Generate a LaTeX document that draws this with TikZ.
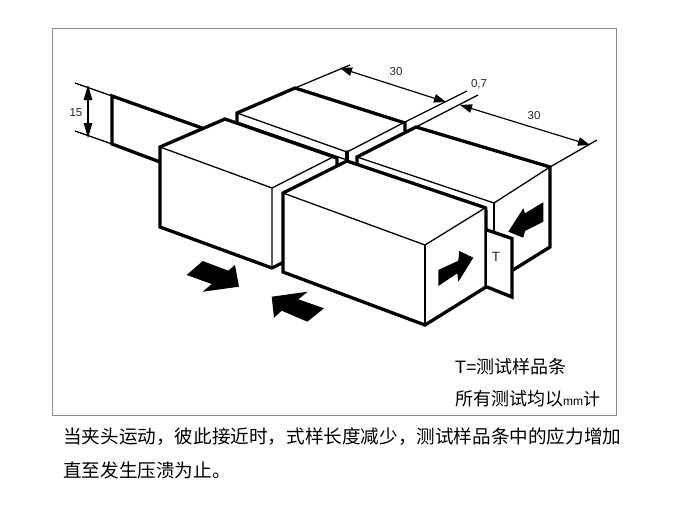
\documentclass[tikz,border=0pt]{standalone}
\usepackage{fontspec}
\setmainfont{Liberation Sans}
\newfontfamily\cjk{Noto Sans CJK SC}
\usetikzlibrary{arrows.meta}
\tikzset{
  thick line/.style={line width=3.3pt,line join=miter,line cap=round},
  thin line/.style={line width=1.3pt},
  face/.style={fill=white},
  dim/.style={line width=1.2pt,{Triangle[length=12pt,width=8.5pt]}-{Triangle[length=12pt,width=8.5pt]}},
  dimtall/.style={line width=1.2pt,{Triangle[length=15pt,width=8.5pt]}-{Triangle[length=15pt,width=8.5pt]}},
  dimlabel/.style={font=\fontsize{11.5}{13}\selectfont,inner sep=0pt,text=black!85},
  cjklabel/.style={anchor=west,inner sep=0pt,font=\fontsize{18}{20}\selectfont},
  caption/.style={anchor=west,inner sep=0pt,font=\cjk\fontsize{18.6}{20}\selectfont},
  motion/.style={fill=black,draw=none}
}
\begin{document}
\begin{tikzpicture}[x=1pt,y=-1pt]
\useasboundingbox (0,0) rectangle (674,506);
\fill[white] (0,0) rectangle (674,506);
\draw[black!45,line width=1pt] (52,28) rectangle (616,415);

% extension lines
\draw[thin line] (75,83) -- (112,96);
\draw[thin line] (75,131) -- (112,144);
\draw[thin line] (295,88) -- (350,65);
\draw[thin line] (405,122) -- (467,91);
\draw[thin line] (416,127) -- (478,95);
\draw[thin line] (550,167) -- (597,140);

% dimensions
\draw[dimtall] (88,85) -- (88,138);
\node[dimlabel] (l15) at (76,113) {15};
\draw[dim] (340,68) -- (446,102);
\node[dimlabel] (l30a) at (396,72) {30};
\node[dimlabel] (l07) at (479,84) {0,7};
\draw[dim] (460,105) -- (590,145);
\node[dimlabel] (l30b) at (534,116) {30};

% test strip, long side
\draw[thick line] (202,128) -- (112,96) -- (112,144) -- (160,162);

% back left clamp
\fill[white] (237,113) -- (295,88) -- (405,123) -- (405,131) -- (347,160) -- (237,122) -- cycle;
\draw[thin line] (237,113) -- (347,152) -- (405,122);
\draw[thin line] (237,122) -- (347,160);
\draw[thick line] (237,122) -- (237,113) -- (295,88) -- (405,123) -- (405,131);
\draw[thick line] (347,152) -- (347,161);

% front left clamp
\fill[white] (160,147) -- (225,119) -- (337,158) -- (337,166) -- (283,193) -- (283,262) -- (272,268) -- (160,227) -- cycle;
\draw[thin line] (160,147) -- (272,188) -- (272,268);
\draw[thin line] (272,188) -- (335,156);
\draw[thick line] (272,268) -- (160,227) -- (160,147) -- (225,119) -- (337,158) -- (337,166);
\draw[thick line] (272,268) -- (284,262);

% back right clamp
\fill[white] (357,157) -- (416,127) -- (550,167) -- (550,247) -- (513,270) -- (487,260) -- (487,208) -- (357,163) -- cycle;
\draw[thin line] (357,157) -- (494,203) -- (550,167);
\draw[thin line] (494,203) -- (494,232);
\draw[thick line] (357,164) -- (357,157) -- (416,127) -- (550,167) -- (550,247) -- (513,270);

% front right clamp
\fill[white] (283,193) -- (347,161) -- (486,208) -- (486,287) -- (425,325) -- (283,272) -- cycle;
\draw[thin line] (283,193) -- (425,245) -- (485,208);
\draw[line width=1.4pt] (425,245) -- (425,325);
\draw[thick line] (486,210) -- (486,287) -- (425,325) -- (283,272) -- (283,193) -- (347,161) -- (486,208);

% test strip, end
\draw[thick line,face] (487,230) -- (512,238.5) -- (512,297) -- (487,287);
\node[inner sep=0pt,font=\fontsize{13.5}{15}\selectfont,text=black!85] (t) at (496,257) {T};

% motion arrows
\fill[motion] (186.7,275) -- (202.7,261) -- (228.3,270.7) -- (235,265) -- (239,286.7) -- (202.7,291.7) -- (211.7,284) -- cycle;
\fill[motion] (271.7,296.7) -- (307.7,291.7) -- (298.3,299.3) -- (324,308.3) -- (307.3,321.7) -- (281.7,310.7) -- (274,317.7) -- cycle;
\fill[motion] (438.3,270) -- (458.3,260.7) -- (459.3,251) -- (473.3,257.7) -- (458.3,281.7) -- (457.3,273.3) -- (438.3,286) -- cycle;
\fill[motion] (543.3,202.3) -- (543.3,221.7) -- (525,231) -- (523.3,237.7) -- (508.3,231.7) -- (523.3,208.3) -- (525,213.3) -- cycle;

% texts
\node[cjklabel] (note1) at (455,367) {T={\cjk 测试样品条}};
\node[cjklabel] (note2) at (455,399) {{\cjk 所有测试均以}{\fontsize{12}{14}\selectfont mm}{\cjk\fontsize{17}{20}\selectfont 计}};
\node[caption] (cap1) at (63,437) {当夹头运动，彼此接近时，式样长度减少，测试样品条中的应力增加};
\node[caption] (cap2) at (63,470) {直至发生压溃为止。};
\end{tikzpicture}
\end{document}
